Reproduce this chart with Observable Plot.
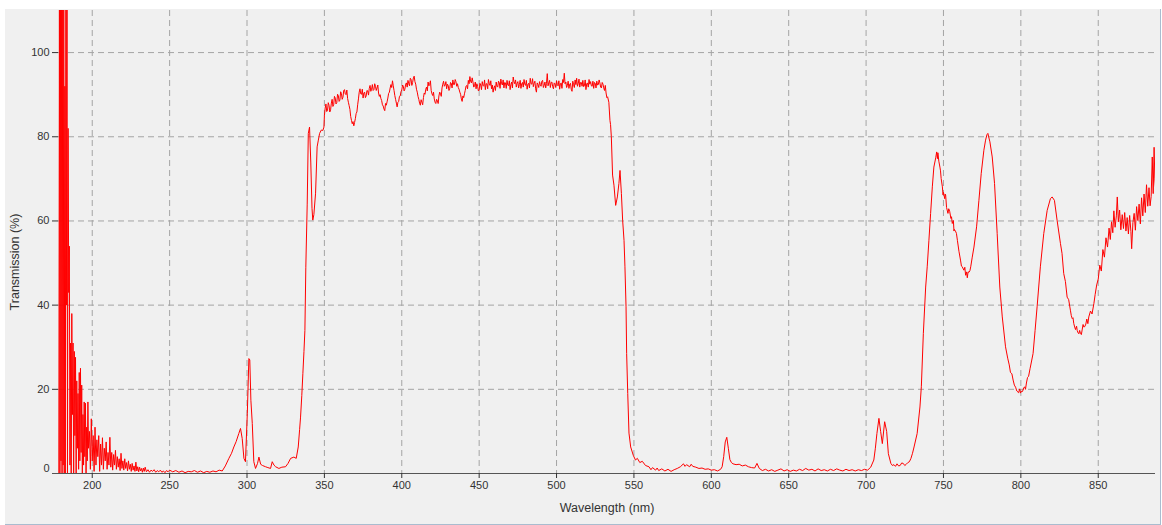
<!DOCTYPE html>
<html>
<head>
<meta charset="utf-8">
<script src="https://cdn.jsdelivr.net/npm/d3@7"></script>
<script src="https://cdn.jsdelivr.net/npm/@observablehq/plot@0.6"></script>
<style>
  body { margin: 0; background: #ffffff; font-family: "Liberation Sans", Arial, sans-serif; }
  #panel { position: absolute; left: 5px; top: 9px; width: 1155px; height: 515px; background: #f0f0f0;
           border-right: 1px solid #a9bccf; border-bottom: 1px solid #a9bccf; }
  #chart { position: absolute; left: 0; top: 0; }
  .title { position: absolute; font-size: 12.5px; color: #333; white-space: nowrap; }
  #xtitle { left: 602px; top: 499px; transform: translate(-50%, -50%); }
  #ytitle { left: 10px; top: 253px; transform: translate(-50%, -50%) rotate(-90deg); }
</style>
</head>
<body>
<div id="panel">
  <div id="chart"></div>
  <div class="title" id="xtitle">Wavelength (nm)</div>
  <div class="title" id="ytitle">Transmission (%)</div>
</div>
<script>
// ---- Axis ticks ----
const xTicks = [200, 250, 300, 350, 400, 450, 500, 550, 600, 650, 700, 750, 800, 850];
const yTicks = [20, 40, 60, 80, 100];
const yZero = [0];
const yGrid = [20, 40, 60, 80, 100];

// ---- Spectrum, [wavelength nm, transmission %] ----
const uvNoise = [
  [178.4, 0], [178.8, 112], [179.1, 0], [179.5, 112], [179.8, 3], [180.2, 112], [180.5, 0], [180.9, 112],
  [181.2, 2], [181.6, 112], [181.9, 0], [182.3, 92], [182.6, 0], [183, 112], [183.3, 40], [183.7, 112],
  [184.0, 0], [184.4, 82], [184.8, 43], [185.2, 54], [185.6, 2], [186, 31], [186.4, 0], [186.8, 38],
  [187.2, 14], [187.6, 31], [188, 0], [188.4, 29], [188.8, 9], [189.2, 27.6], [189.6, 0], [190, 22],
  [190.4, 6], [190.8, 19], [191.2, 1], [191.6, 24], [192, 3], [192.4, 25], [192.8, 5], [193.2, 21],
  [193.6, 0], [194, 14], [194.4, 2], [194.8, 17], [195.2, 4], [195.6, 16.7], [196, 0], [196.4, 11],
  [196.8, 3], [197.2, 17], [197.6, 6], [198.2, 10], [198.8, 1], [199.4, 13], [200, 3], [200.6, 9],
  [201.2, 0.5], [201.8, 11], [202.4, 2], [203, 8], [203.6, 4], [204.2, 9], [204.8, 0.5], [205.4, 7],
  [206, 2], [206.6, 8.5], [207.2, 1], [207.8, 6], [208.4, 3], [209, 7.5], [209.6, 1], [210.2, 5],
  [210.8, 2], [211.4, 8.6], [212, 1.5], [212.6, 5], [213.2, 0.8], [213.8, 4.5], [214.4, 2], [215, 5.5],
  [215.6, 1], [216.2, 4], [216.8, 1.5], [217.4, 3.5], [218, 0.7], [218.6, 4.8], [219.2, 1.2], [219.8, 3],
  [220.4, 0.8], [221, 3.5], [221.6, 1.2], [222.2, 2.6], [222.8, 0.6], [223.4, 3], [224, 1], [224.6, 2.2],
  [225.2, 0.5], [225.8, 2.4], [226.4, 0.8], [227, 1.8], [227.6, 0.5], [228.2, 2.7], [228.8, 0.6], [229.4, 1.6],
  [230, 0.4], [230.6, 1.5], [231.2, 0.6], [231.8, 1.2], [232.4, 0.3], [233, 1.3], [233.6, 0.5], [234.2, 1.5],
  [235, 0.4], [236, 0.9], [237, 0.3], [238, 0.8], [239, 0.5], [240, 0.9], [241, 0.3], [242, 0.7],
  [243, 0.4], [244, 0.8], [245, 0.3], [246, 0.6], [247, 0.2], [248, 0.7], [249, 0.4], [250, 0.8],
  [252, 0.4], [254, 0.7], [256, 0.3], [258, 0.6], [260, 0.2], [262, 0.5], [264, 0.4], [266, 0.7],
  [268, 0.3], [270, 0.6], [272, 0.2], [274, 0.5], [276, 0.3], [278, 0.6], [280, 0.4], [282, 0.8], [284, 0.6]
];

const uvBand = [
  [286, 1.8], [288.3, 3.6], [290, 4.8], [291.5, 6.3], [293, 7.6], [294.7, 9.5], [295.8, 10.7], [296.9, 8.3],
  [298, 3.6], [299, 2.8], [300.2, 14.3], [301.2, 27.3], [301.8, 27.0], [302.5, 17.4], [303.4, 11.9], [304.4, 2.8],
  [305.5, 1.2], [306.8, 2.4], [307.7, 3.9], [308.8, 2.2], [310, 1.9], [312, 1.6], [313.5, 1.4], [315.2, 1.2],
  [316.3, 2.8], [317.4, 2.0], [318.5, 1.6], [320.6, 1.2], [322.5, 1.5], [324.9, 1.6], [326.5, 2.4], [328.2, 3.6],
  [330.3, 3.9], [331.8, 3.6], [333.1, 6.3], [334, 10.5], [334.6, 13.4], [335.4, 18.5], [336.1, 23.8], [336.8, 29],
  [337.4, 34], [338, 49], [338.9, 64], [339.6, 80.8], [340.4, 82.3], [341.2, 74], [342, 63], [342.5, 60.2],
  [343.2, 61.5], [344.3, 66.6], [345.3, 77.6], [346.1, 79.2], [346.9, 80.8], [348, 81.6], [349, 81.5], [349.7, 82.3]
];

const passband = [
  [350, 85.0], [351, 87.8], [352, 86.2], [353, 87.5], [354, 86.4], [355, 88.9], [356, 87.6], [357, 89.2],
  [358, 88.1], [359, 89.8], [360, 88.7], [361, 90.3], [362, 89.4], [363, 91.2], [364, 90.0], [365, 89.1],
  [366, 87.4], [367, 84.8], [368, 83.1], [369, 82.6], [370, 84.3], [371, 85.9], [372, 89.0], [373, 91.4],
  [374, 90.1], [375, 89.2], [376, 90.6], [377, 89.7], [378, 90.9], [379, 91.5], [380, 90.8], [381, 92.4],
  [382, 91.2], [383, 92.0], [384, 91.6], [385, 90.4], [386, 90.0], [387, 88.6], [388, 87.3], [389, 86.2],
  [390, 87.5], [391, 89.2], [392, 90.6], [393, 92.4], [394, 93.3], [395, 91.0], [396, 88.9], [397, 87.1],
  [398, 88.4], [399, 89.7], [400, 91.1], [401, 92.0], [402, 91.3], [403, 92.8], [404, 93.4], [405, 92.1],
  [406, 93.6], [407, 92.9], [408, 94.4], [409, 92.5], [410, 90.6], [411, 88.9], [412, 87.5], [413, 88.2],
  [414, 89.3], [415, 90.1], [416, 91.8], [417, 93.0], [418, 92.4], [419, 91.0], [420, 89.8], [421, 89.0],
  [422, 87.9], [423, 88.6], [424, 89.7], [425, 90.3], [426, 91.6], [427, 93.2], [428, 92.3], [429, 91.4],
  [430, 92.2], [431, 91.5], [432, 92.7], [433, 93.5], [434, 92.4], [435, 93.1], [436, 92.6], [437, 91.3],
  [438, 90.1], [439, 88.4], [440, 89.3], [441, 91.0], [442, 92.2], [443, 93.4], [444, 94.3], [445, 92.8],
  [446, 93.0], [447, 92.1], [448, 91.4], [449, 92.0], [450, 91.1], [451, 92.3], [452, 93.1], [453, 92.0],
  [454, 91.2], [455, 92.6], [456, 93.6], [457, 92.2], [458, 91.4], [459, 90.6], [460, 92.1], [461, 93.0],
  [462, 91.8], [463, 92.9], [464, 93.7], [465, 92.3], [466, 91.6], [467, 92.8], [468, 93.4], [469, 92.1],
  [470, 91.2], [471, 93.0], [472, 94.2], [473, 92.6], [474, 91.8], [475, 93.1], [476, 92.4], [477, 91.5],
  [478, 92.9], [479, 93.6], [480, 92.2], [481, 91.3], [482, 92.7], [483, 93.9], [484, 92.5], [485, 91.9],
  [486, 93.2], [487, 90.6], [488, 92.4], [489, 93.1], [490, 92.0], [491, 93.4], [492, 92.2], [493, 91.6],
  [494, 95.0], [495, 92.8], [496, 91.7], [497, 93.0], [498, 91.4], [499, 92.6], [500, 93.3], [501, 92.1],
  [502, 91.3], [503, 92.8], [504, 93.6], [505, 95.1], [506, 93.0], [507, 92.2], [508, 91.5], [509, 92.7],
  [510, 90.8], [511, 92.4], [512, 93.5], [513, 93.9], [514, 92.6], [515, 91.8], [516, 92.9], [517, 93.4],
  [518, 92.1], [519, 91.2], [520, 92.8], [521, 93.6], [522, 93.1], [523, 92.0], [524, 91.5], [525, 92.7],
  [526, 93.2], [527, 92.4], [528, 92.8], [529, 91.6], [530, 92.5], [531, 91.0], [532, 90.4], [533, 89.5],
  [533.8, 88.2]
];

// in-between readings of the passband (fine noise)
const passbandFine = [
  [350.5, 86.8], [351.5, 86.0], [352.5, 88.1], [353.5, 85.9], [354.5, 88.0], [355.5, 87.2], [356.5, 89.6], [357.5, 87.8],
  [358.5, 90.1], [359.5, 88.4], [360.5, 90.7], [361.5, 88.9], [362.5, 91.0], [363.5, 90.2], [364.5, 91.1], [365.5, 88.2],
  [366.5, 86.5], [367.5, 83.9], [368.5, 83.6], [369.5, 83.4], [370.5, 85.5], [371.5, 87.6], [372.5, 90.6], [373.5, 90.2],
  [374.5, 91.3], [375.5, 90.4], [376.5, 89.3], [377.5, 91.0], [378.5, 89.9], [379.5, 92.2], [380.5, 91.3], [381.5, 91.0],
  [382.5, 92.6], [383.5, 91.0], [384.5, 92.3], [385.5, 89.6], [386.5, 89.1], [387.5, 87.6], [388.5, 86.6], [389.5, 87.9],
  [390.5, 88.3], [391.5, 90.3], [392.5, 91.6], [393.5, 91.7], [394.5, 92.1], [395.5, 89.8], [396.5, 88.0], [397.5, 88.2],
  [398.5, 89.6], [399.5, 90.7], [400.5, 92.3], [401.5, 90.9], [402.5, 92.5], [403.5, 91.8], [404.5, 92.6], [405.5, 93.9],
  [406.5, 92.2], [407.5, 94.0], [408.5, 93.1], [409.5, 91.3], [410.5, 89.6], [411.5, 88.0], [412.5, 88.8], [413.5, 87.6],
  [414.5, 90.4], [415.5, 91.3], [416.5, 90.9], [417.5, 92.1], [418.5, 93.3], [419.5, 90.2], [420.5, 90.6], [421.5, 88.2],
  [422.5, 88.9], [423.5, 87.9], [424.5, 90.6], [425.5, 89.6], [426.5, 92.5], [427.5, 92.0], [428.5, 93.1], [429.5, 92.5],
  [430.5, 91.0], [431.5, 92.9], [432.5, 91.6], [433.5, 92.4], [434.5, 93.6], [435.5, 92.0], [436.5, 91.7], [437.5, 90.6],
  [438.5, 89.0], [439.5, 89.7], [440.5, 90.2], [441.5, 92.0], [442.5, 91.4], [443.5, 92.6], [444.5, 93.1], [445.5, 94.0],
  [446.5, 91.8], [447.5, 93.0], [448.5, 92.6], [449.5, 90.9], [450.5, 92.7], [451.5, 91.2], [452.5, 92.2], [453.5, 93.5],
  [454.5, 92.6], [455.5, 91.4], [456.5, 92.7], [457.5, 93.3], [458.5, 92.3], [459.5, 91.6], [460.5, 91.0], [461.5, 92.0],
  [462.5, 93.2], [463.5, 91.5], [464.5, 92.6], [465.5, 93.5], [466.5, 92.9], [467.5, 91.5], [468.5, 92.3], [469.5, 93.3],
  [470.5, 92.4], [471.5, 91.6], [472.5, 93.1], [473.5, 93.5], [474.5, 92.7], [475.5, 91.6], [476.5, 93.4], [477.5, 92.6],
  [478.5, 91.8], [479.5, 92.5], [480.5, 93.4], [481.5, 92.5], [482.5, 91.6], [483.5, 92.6], [484.5, 93.8], [485.5, 92.7],
  [486.5, 91.4], [487.5, 92.8], [488.5, 91.7], [489.5, 92.4], [490.5, 93.2], [491.5, 91.7], [492.5, 93.0], [493.5, 92.7],
  [494.5, 92.1], [495.5, 93.4], [496.5, 92.9], [497.5, 91.9], [498.5, 92.8], [499.5, 91.7], [500.5, 92.4], [501.5, 93.3],
  [502.5, 92.6], [503.5, 91.5], [504.5, 92.9], [505.5, 92.6], [506.5, 91.7], [507.5, 93.2], [508.5, 92.5], [509.5, 91.3],
  [510.5, 93.2], [511.5, 91.7], [512.5, 92.4], [513.5, 92.0], [514.5, 93.7], [515.5, 92.9], [516.5, 92.0], [517.5, 91.9],
  [518.5, 93.5], [519.5, 92.6], [520.5, 91.8], [521.5, 92.5], [522.5, 92.1], [523.5, 93.2], [524.5, 92.9], [525.5, 91.6],
  [526.5, 92.3], [527.5, 93.5], [528.5, 91.8], [529.5, 92.9], [530.5, 91.6], [531.5, 92.2], [532.5, 89.3]
];

const cutoff = [
  [534.5, 83.9], [534.9, 82.9], [535.4, 80], [536.2, 70.9], [537.1, 68.5], [538.2, 63.7], [539.3, 65.7],
  [540.3, 68.9], [541, 72], [541.9, 66.5], [542.7, 60.2], [543.6, 55.4], [544.2, 49.1], [544.9, 39.6],
  [545.3, 28.5], [546, 19], [546.8, 9.6], [547.9, 6.3], [549.6, 4.3], [551, 3.2], [552.2, 3.6], [553.8, 2.6],
  [555.4, 2.9], [557.5, 1.9], [559.7, 1.6]
];

const visibleFloor = [
  [561, 0.9], [562, 1.4], [564, 0.8], [565, 1.3], [566, 0.7], [568, 1.1], [570, 0.6], [572, 1.0], [574, 0.5],
  [576, 0.9], [578, 1.2], [580, 1.6], [582, 2.3], [583, 1.7], [584, 2.1], [586, 1.6], [587, 2.2], [588, 1.7],
  [590, 1.5], [592, 1.2], [594, 1.3], [596, 1.0], [598, 1.1], [600, 0.8], [602, 0.9], [604, 0.6], [606, 1.0],
  [607, 1.6], [608, 4.0], [609, 7.5], [610, 8.6], [611, 6.0], [612, 3.3], [613, 2.6], [614, 2.3], [616, 2.1],
  [618, 2.2], [620, 1.8], [622, 2.0], [624, 1.6], [626, 1.4], [628, 1.3], [629.5, 2.4], [631, 1.2], [633, 0.7],
  [635, 1.0], [637, 0.6], [639, 0.9], [641, 0.5], [643, 0.8], [645, 1.1], [647, 0.6], [649, 0.9], [651, 0.5],
  [653, 0.8], [655, 0.6], [657, 1.0], [659, 0.7], [661, 1.2], [663, 0.8], [665, 1.0], [667, 0.6], [669, 1.1],
  [671, 0.7], [673, 0.9], [675, 0.6], [677, 1.0], [679, 0.7], [681, 1.1], [683, 0.8], [685, 0.6], [687, 1.0],
  [689, 0.7], [691, 0.9], [693, 0.6], [695, 0.9], [697, 0.7], [699, 1.0], [701, 0.8], [703, 1.5]
];

const redPeaks = [
  [705, 3.2], [706, 6], [707, 9.5], [708.3, 13.1], [709.4, 10], [710.5, 7.1], [712, 12.3], [713.3, 10],
  [714.4, 4.7], [716, 2.4], [717, 1.9], [718, 2.1], [719, 1.7], [720, 2.3], [721, 1.8], [722, 1.9], [723, 2.5],
  [724, 2.4], [725, 1.9], [726, 2.2], [727, 2.6], [728, 2.8], [729, 3.6], [730, 4.8], [731, 6.3], [733, 9.5],
  [734.8, 15.8], [735.7, 20.6], [737, 33.3], [738.5, 44.3], [739.5, 49.1], [740.6, 55.4], [741.7, 61.8],
  [742.8, 68.1], [743.8, 72.8], [745, 75], [745.6, 76.4], [746.1, 74.8], [746.4, 76.2], [747, 74.2], [747.7, 72.8],
  [748.5, 70.1], [749.3, 68.1], [750, 66.8], [750.8, 65.3], [751.4, 66.2], [752, 63.2], [752.9, 61.8], [754, 62.3],
  [754.8, 60.6], [755.7, 59.4], [756.4, 60.1], [757, 58], [758, 57.4], [759, 55.4], [760, 52.8], [761.1, 50.5],
  [762, 49.2], [763.2, 48.3], [764.3, 47.1], [764.9, 47.9], [765.4, 46.5], [766.5, 47.8], [767.6, 49.1], [768.6, 51.4],
  [769.7, 53.8], [771.4, 58.6], [772.9, 64.9], [774.4, 71.3], [776.1, 76.8], [777.2, 79.2], [778.1, 80.5],
  [778.7, 80.8], [779.4, 79.7], [780, 78.8], [781.5, 75.2], [783, 68.9], [784.7, 57], [786.4, 44.3], [788, 37.2],
  [790.1, 30.1], [791.5, 27.4], [793.3, 24], [795, 22.2], [796.6, 20.5], [797.4, 19.6], [798.5, 19.2], [799.3, 20.1],
  [800, 19.4], [801.1, 19.5], [802.5, 20.6], [803.6, 21.5], [805, 23.1], [806, 25], [807.9, 28.5], [809.2, 34],
  [810.5, 39.6], [812.6, 49.1], [814.8, 57], [817, 62.5], [819.1, 65.3], [820.2, 65.7], [821.7, 64.9], [823.4, 60.2],
  [825.6, 54.6], [827.7, 47.5], [829.9, 41.9], [832, 38.8], [833.2, 36.8], [834.2, 35.6], [835.3, 34.2],
  [836.4, 34], [837.5, 33.2], [838.5, 33.3], [839.6, 34.1], [840.7, 34.8]
];

// in-between readings on the near-infrared slopes
const redFine = [
  [748.1, 71.9], [749.7, 66.2], [751.1, 66.4], [753.4, 62.9], [755.2, 61.0], [756.8, 57.6], [758.4, 57.0],
  [761.6, 49.3], [763.8, 49.0], [765.9, 47.9], [767.1, 48.2], [792.5, 25.8], [794.2, 23.7], [795.8, 21.0],
  [799.7, 19.1], [801.8, 20.3], [803, 20.0], [804.3, 22.8], [826.6, 52.3], [828.8, 45.6], [830.9, 41.3],
  [832.6, 37.5], [833.7, 37.0], [834.8, 34.8], [836, 35.0], [837, 33.4], [838, 34.0], [839.1, 33.0],
  [840.2, 35.4], [841.3, 34.9]
];

const nirTail = [
  [842, 35.5], [842.6, 36.7], [843.3, 35.6], [843.9, 37.2], [845, 38.6], [846, 37.9], [847.2, 40.4], [848, 42.5],
  [849, 44.8], [850, 46.2], [851, 49.5], [852, 48.1], [853, 53.2], [854, 51.4], [855, 56.0], [856, 53.8],
  [857, 58.3], [857.8, 55.6], [858.6, 59.8], [859.4, 57.2], [860.1, 62.4], [860.9, 58.5], [861.7, 61.2],
  [862.3, 65.7], [863, 59.8], [863.8, 62.6], [864.6, 57.9], [865.5, 61.5], [866.3, 58.2], [867.1, 62.0],
  [867.9, 57.6], [868.7, 60.8], [869.5, 56.9], [870.3, 61.3], [871.1, 57.5], [871.6, 53.4], [872.4, 59.6],
  [873.2, 61.8], [874, 57.8], [874.8, 63.4], [875.6, 60.1], [876.4, 64.0], [877.2, 59.3], [878, 65.5],
  [878.8, 61.2], [879.6, 66.4], [880.4, 62.0], [881.2, 68.6], [882, 63.5], [882.8, 67.9], [883.5, 63.6],
  [884.2, 65.8], [884.9, 75.2], [885.5, 66.5], [886.1, 77.5], [886.6, 70.0], [887, 68]
];

const spectrum = d3.sort(
  [...uvNoise, ...uvBand, ...passband, ...passbandFine, ...cutoff, ...visibleFloor, ...redPeaks, ...redFine, ...nirTail],
  (d) => d[0]
).map(([wl, t]) => ({wl, t}));

const gridStyle = {stroke: "#a4a4a4", strokeOpacity: 1, strokeDasharray: "6,4", strokeWidth: 1};

const chart = Plot.plot({
  width: 1155,
  height: 515,
  marginLeft: 53,
  marginRight: 5,
  marginTop: 1,
  marginBottom: 51,
  style: {background: "transparent", fontFamily: "'Liberation Sans', Arial, sans-serif", fontSize: "11px", color: "#333"},
  x: {domain: [178.2, 887]},
  y: {domain: [0, 110]},
  marks: [
    Plot.gridX(xTicks, gridStyle),
    Plot.gridY(yGrid, gridStyle),
    Plot.line(spectrum, {x: "wl", y: "t", stroke: "#ff0000", strokeWidth: 1, clip: true}),
    Plot.ruleY([0], {stroke: "#555", strokeWidth: 1.2, insetLeft: -6}),
    Plot.axisX(xTicks, {tickSize: 5, tickPadding: 3, stroke: "#333", label: null}),
    Plot.axisY(yTicks, {tickSize: 6, tickPadding: 3, stroke: "#333", label: null}),
    Plot.axisY(yZero, {tickSize: 0, tickPadding: 9, dy: -5, label: null})
  ]
});
document.getElementById("chart").appendChild(chart);
</script>
</body>
</html>
